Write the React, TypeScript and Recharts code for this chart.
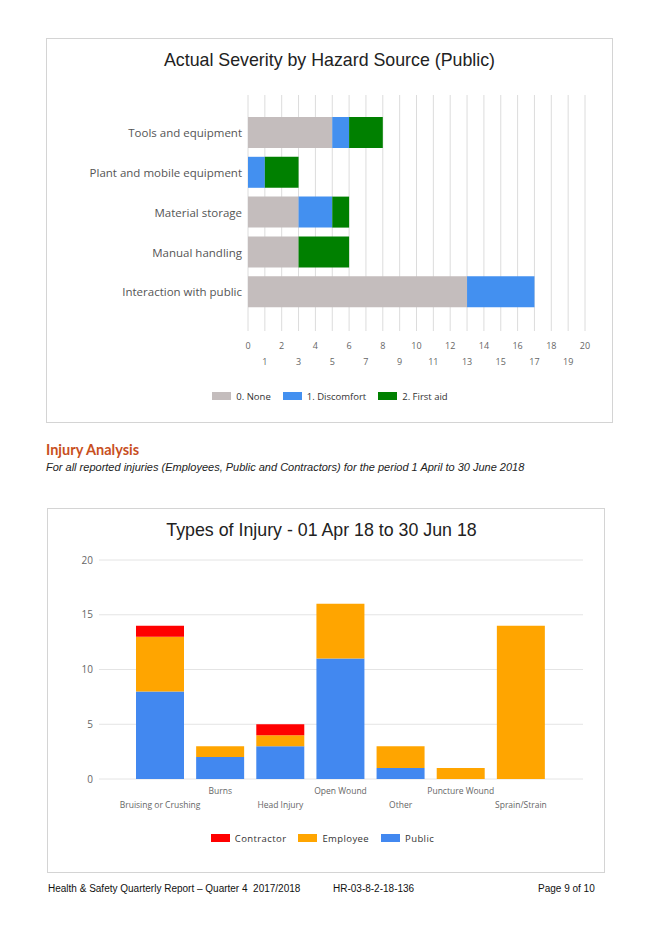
import React from "react";
import { BarChart, Bar, XAxis, YAxis, CartesianGrid, Legend } from "recharts";

// Actual Severity by Hazard Source (Public)
const hazardSources = [
  "Tools and equipment",
  "Plant and mobile equipment",
  "Material storage",
  "Manual handling",
  "Interaction with public",
];
const severityNone = [5, 0, 3, 3, 13];
const severityDiscomfort = [1, 1, 2, 0, 4];
const severityFirstAid = [2, 2, 1, 3, 0];
const severityTicks = [0, 1, 2, 3, 4, 5, 6, 7, 8, 9, 10, 11, 12, 13, 14, 15, 16, 17, 18, 19, 20];

// Types of Injury - 01 Apr 18 to 30 Jun 18
const injuryTypes = [
  "Bruising or Crushing",
  "Burns",
  "Head Injury",
  "Open Wound",
  "Other",
  "Puncture Wound",
  "Sprain/Strain",
];
const injuryPublic = [8, 2, 3, 11, 1, 0, 0];
const injuryEmployee = [5, 1, 1, 5, 2, 1, 14];
const injuryContractor = [1, 0, 1, 0, 0, 0, 0];
const injuryTicks = [0, 5, 10, 15, 20];

const severityData = hazardSources.map((name, i) => ({
  name,
  none: severityNone[i],
  discomfort: severityDiscomfort[i],
  firstAid: severityFirstAid[i],
}));

const injuryData = injuryTypes.map((name, i) => ({
  name,
  public: injuryPublic[i],
  employee: injuryEmployee[i],
  contractor: injuryContractor[i],
}));

const chartFont = "'Open Sans', 'Noto Sans', sans-serif";
const docFont = "'Liberation Sans', Arial, sans-serif";

const SeverityXTick = (props: any) => {
  const { x, y, payload } = props;
  const odd = payload.value % 2 === 1;
  return (
    <text x={x} y={y + (odd ? 34 : 18)} textAnchor="middle" fontSize={9} fill="#666" fontFamily={chartFont}>
      {payload.value}
    </text>
  );
};

const SeverityYTick = (props: any) => {
  const { x, y, payload } = props;
  return (
    <text x={x} y={y} dy="0.38em" textAnchor="end" fontSize={11.5} fill="#555" fontFamily={chartFont}>
      {payload.value}
    </text>
  );
};

const InjuryXTick = (props: any) => {
  const { x, y, payload, index } = props;
  const odd = index % 2 === 1;
  return (
    <text x={x} y={y + (odd ? 15 : 29)} textAnchor="middle" fontSize={8.5} fill="#666" fontFamily={chartFont}>
      {payload.value}
    </text>
  );
};

// legend items come sorted by name, which already matches the reference order
const makeLegend = (shift: number, spacing: number) => (props: any) => {
  const items = props.payload || [];
  return (
    <div
      style={{
        display: "flex",
        justifyContent: "center",
        alignItems: "center",
        height: 30,
        paddingLeft: shift,
        fontFamily: chartFont,
        fontSize: 9.5,
        letterSpacing: spacing,
        color: "#333",
      }}
    >
      {items.map((p: any) => (
        <div key={p.value} style={{ display: "flex", alignItems: "center", margin: "0 6px" }}>
          <span style={{ display: "inline-block", width: 19, height: 8, background: p.color, marginRight: 5 }} />
          <span>{p.value}</span>
        </div>
      ))}
    </div>
  );
};

const boxStyle: React.CSSProperties = {
  position: "absolute",
  border: "1px solid #d4d4d4",
  background: "#fff",
  boxSizing: "border-box",
};

const titleStyle: React.CSSProperties = {
  position: "absolute",
  left: 0,
  right: 0,
  textAlign: "center",
  fontFamily: docFont,
  fontSize: 17.8,
  color: "#222",
};

export default function App() {
  return (
    <div style={{ position: "absolute", left: 0, top: 0, width: 656, height: 928, background: "#fff" }}>
      {/* Chart 1 */}
      <div style={{ ...boxStyle, left: 46, top: 38, width: 567, height: 385 }}>
        <div style={{ ...titleStyle, top: 11 }}>Actual Severity by Hazard Source (Public)</div>
        <BarChart
          layout="vertical"
          width={565}
          height={383}
          data={severityData}
          margin={{ top: 56, right: 27, bottom: 11, left: 0 }}
        >
          <CartesianGrid horizontal={false} stroke="#dcdcdc" />
          <XAxis
            type="number"
            domain={[0, 20]}
            ticks={severityTicks}
            interval={0}
            tick={<SeverityXTick />}
            tickLine={false}
            axisLine={false}
            tickSize={0}
            tickMargin={0}
            height={50}
          />
          <YAxis
            type="category"
            dataKey="name"
            width={201}
            tick={<SeverityYTick />}
            tickLine={false}
            axisLine={false}
            tickSize={0}
            tickMargin={6}
            padding={{ top: 18, bottom: 19 }}
          />
          <Legend verticalAlign="bottom" height={30} content={makeLegend(28, 0)} />
          <Bar dataKey="none" name="0. None" stackId="s" fill="#c4bdbd" barSize={31} isAnimationActive={false} />
          <Bar dataKey="discomfort" name="1. Discomfort" stackId="s" fill="#4390f0" barSize={31} isAnimationActive={false} />
          <Bar dataKey="firstAid" name="2. First aid" stackId="s" fill="#008000" barSize={31} isAnimationActive={false} />
        </BarChart>
      </div>

      {/* Section heading */}
      <div
        style={{
          position: "absolute",
          left: 46,
          top: 441,
          fontFamily: "Lato, 'Liberation Sans', sans-serif",
          fontWeight: 700,
          fontSize: 14.5,
          color: "#c8501e",
        }}
      >
        Injury Analysis
      </div>
      <div
        style={{
          position: "absolute",
          left: 46,
          top: 461,
          fontFamily: docFont,
          fontStyle: "italic",
          fontSize: 11,
          color: "#222",
        }}
      >
        For all reported injuries (Employees, Public and Contractors) for the period 1 April to 30 June 2018
      </div>

      {/* Chart 2 */}
      <div style={{ ...boxStyle, left: 47, top: 508, width: 558, height: 365 }}>
        <div style={{ ...titleStyle, top: 11, right: 9 }}>Types of Injury - 01 Apr 18 to 30 Jun 18</div>
        <BarChart
          width={556}
          height={363}
          data={injuryData}
          margin={{ top: 51, right: 21, bottom: 19, left: 0 }}
        >
          <CartesianGrid vertical={false} stroke="#e4e4e4" />
          <XAxis
            dataKey="name"
            interval={0}
            tick={<InjuryXTick />}
            tickLine={false}
            axisLine={false}
            tickSize={0}
            tickMargin={0}
            height={44}
            padding={{ left: 31, right: 32 }}
          />
          <YAxis
            type="number"
            domain={[0, 20]}
            ticks={injuryTicks}
            width={51}
            tick={{ fontSize: 10, fill: "#666", fontFamily: chartFont }}
            tickLine={false}
            axisLine={false}
            tickSize={0}
            tickMargin={6}
          />
          <Legend verticalAlign="bottom" height={30} content={makeLegend(14, 0.4)} />
          <Bar dataKey="public" name="Public" stackId="i" fill="#4288f0" barSize={48} isAnimationActive={false} />
          <Bar dataKey="employee" name="Employee" stackId="i" fill="#ffa500" barSize={48} isAnimationActive={false} />
          <Bar dataKey="contractor" name="Contractor" stackId="i" fill="#ff0000" barSize={48} isAnimationActive={false} />
        </BarChart>
      </div>

      {/* Footer */}
      <div style={{ position: "absolute", left: 48, top: 883, fontFamily: docFont, fontSize: 10, color: "#111" }}>
        Health &amp; Safety Quarterly Report – Quarter 4&nbsp;&nbsp;2017/2018
      </div>
      <div style={{ position: "absolute", left: 333, top: 883, fontFamily: docFont, fontSize: 10, color: "#111" }}>
        HR-03-8-2-18-136
      </div>
      <div style={{ position: "absolute", left: 538, top: 883, fontFamily: docFont, fontSize: 10, color: "#111" }}>
        Page 9 of 10
      </div>
    </div>
  );
}
